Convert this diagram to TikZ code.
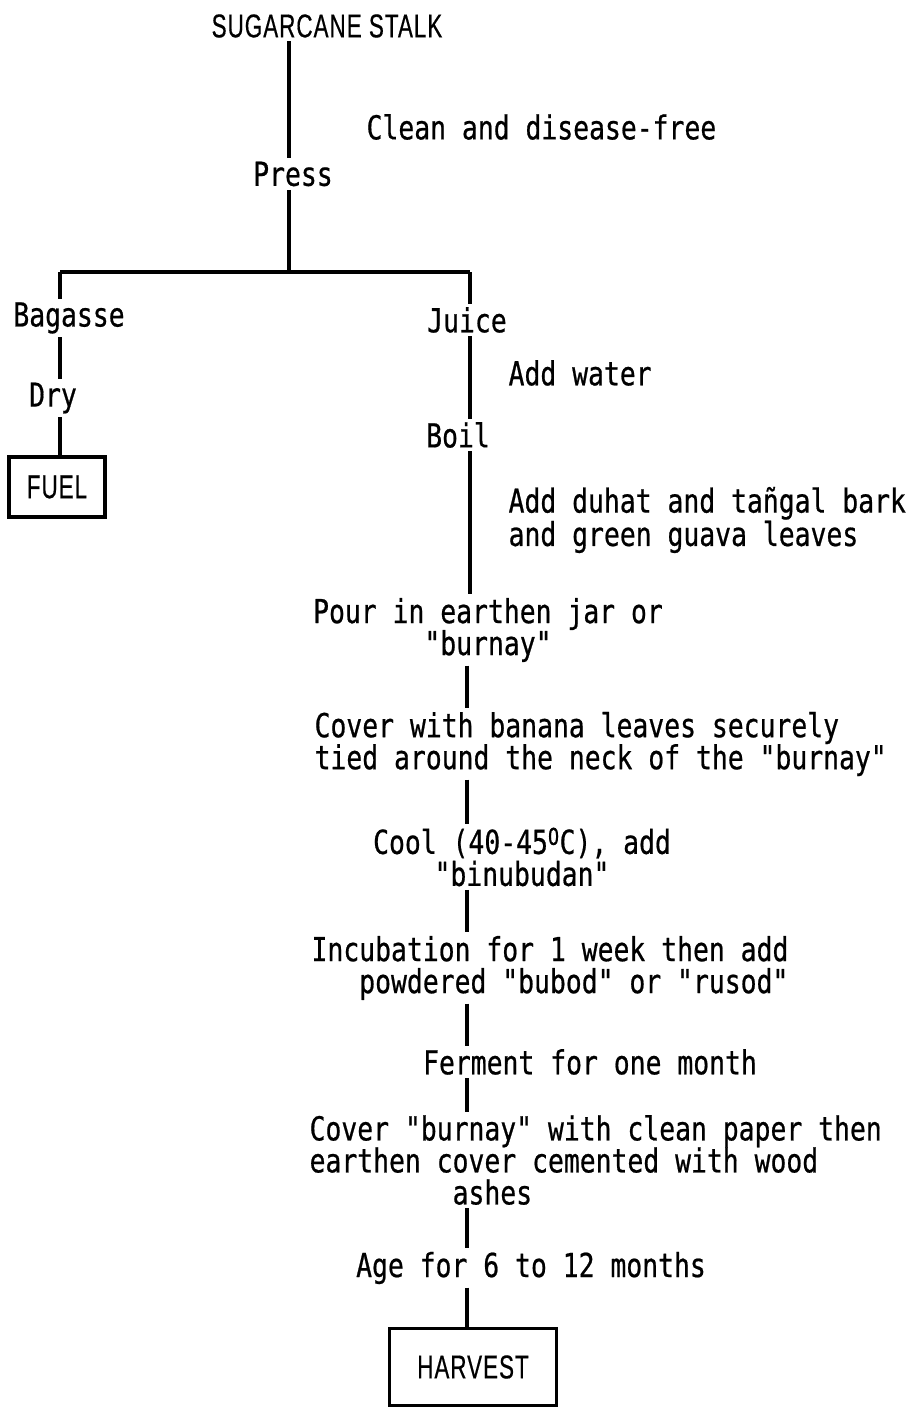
\documentclass[tikz,border=0pt]{standalone}
\usepackage{fontspec}
\setmonofont{DejaVu Sans Mono}[FakeStretch=0.8,FakeBold=0.6]
\newfontfamily\capsfont{Liberation Sans}[FakeStretch=0.68,FakeBold=0.4,LetterSpace=3]
\usetikzlibrary{positioning}

\begin{document}
\begin{tikzpicture}[x=1pt,y=-1pt,line width=3.2pt,
    txt/.style={font=\ttfamily\fontsize{33}{32}\selectfont,inner sep=2pt},
    caps/.style={font=\capsfont\fontsize{33}{33}\selectfont,inner sep=2pt},
    endbox/.style={caps,draw,line width=3.4pt}]
  \useasboundingbox (0,0) rectangle (906,1410);

  % top of the chart
  \node[caps] (stalk) at (327,26) {SUGARCANE STALK};
  \node[txt,anchor=west] (clean) at (363,127) {Clean and disease-free};
  \node[txt] (press) at (293,174) {Press};
  \coordinate (split) at (289,272);
  \coordinate (lsplit) at (60,272);
  \coordinate (rsplit) at (470,272);
  \coordinate (col) at (467,0);

  % bagasse branch
  \node[txt] (bagasse) at (69,318) {Bagasse};
  \node[txt] (dry) at (53,398) {Dry};
  \node[endbox,minimum width=96pt,minimum height=60pt] (fuel) at (57,487) {FUEL};

  % juice branch
  \node[txt] (juice) at (467,320) {Juice};
  \node[txt,anchor=west] (water) at (505,373) {Add water};
  \node[txt] (boil) at (458,435) {Boil};
  \node[txt,anchor=west,align=left] (bark) at (505,520) {Add duhat and tañgal bark\\and green guava leaves};
  \node[txt,align=center] (pour) at (488,630) {Pour in earthen jar or\\"burnay"};
  \node[txt,anchor=west,align=left] (banana) at (311,744) {Cover with banana leaves securely\\tied around the neck of the "burnay"};
  \node[txt,align=center] (cool) at (522,857) {Cool (40-45\textsuperscript{O}C), add\\"binubudan"};
  \node[txt,anchor=east,align=right] (incub) at (792,968) {Incubation for 1 week then add\\powdered "bubod" or "rusod"};
  \node[txt] (ferment) at (590,1062) {Ferment for one month};
  \node[txt,anchor=west,align=left] (paper) at (306,1160) {Cover "burnay" with clean paper then\\earthen cover cemented with wood\\\hphantom{123456789}ashes};
  \node[txt] (age) at (531,1268) {Age for 6 to 12 months};
  \node[endbox,minimum width=167pt,minimum height=77pt] (harvest) at (473,1367) {HARVEST};

  % connectors
  \draw (stalk.south -| split) -- (press.north -| split);
  \draw (press.south -| split) -- (split);
  \draw (lsplit) -- (rsplit);
  \draw (lsplit) -- (lsplit |- bagasse.north);
  \draw (rsplit) -- (rsplit |- juice.north);
  \draw (bagasse.south -| lsplit) -- (dry.north -| lsplit);
  \draw (dry.south -| lsplit) -- (fuel.north -| lsplit);
  \draw (juice.south -| rsplit) -- (boil.north -| rsplit);
  \draw (boil.south -| rsplit) -- (pour.north -| rsplit);
  \foreach \a/\b in {pour/banana,banana/cool,cool/incub,incub/ferment,ferment/paper,paper/age,age/harvest}
    \draw (\a.south -| col) -- (\b.north -| col);
\end{tikzpicture}
\end{document}
